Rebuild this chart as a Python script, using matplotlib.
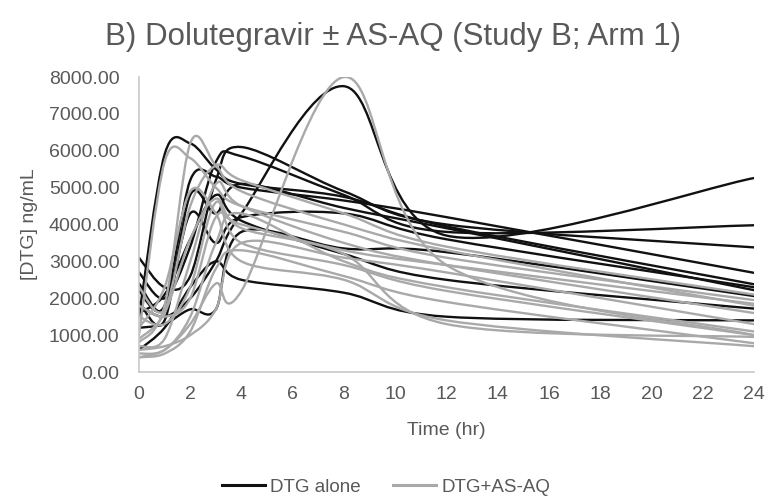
import matplotlib
matplotlib.use("Agg")
import matplotlib.pyplot as plt
import numpy as np
from matplotlib.path import Path
from matplotlib.patches import PathPatch
from matplotlib.lines import Line2D

plt.rcParams["font.family"] = ["Liberation Sans", "DejaVu Sans"]

# sampling times (hr)
hours = [0, 1, 2, 3, 4, 8, 12, 24]

# [DTG] ng/mL per participant, DTG given alone
dtg_alone = [
    [1500, 5900, 6200, 5500, 5100, 4750, 3950, 2380],
    [1800, 1500, 2000, 3000, 4300, 7750, 3700, 5260],
    [3100, 2300, 2600, 5200, 6100, 4900, 4000, 3380],
    [2700, 2000, 3400, 5700, 5850, 4800, 3800, 3980],
    [2200, 1800, 5200, 5300, 5000, 4650, 4200, 2690],
    [1900, 1400, 4800, 4300, 5100, 4450, 3900, 2220],
    [1200, 1300, 1700, 1700, 3800, 3350, 3250, 2060],
    [600, 1200, 2300, 3000, 2500, 2150, 1500, 1400],
    [1600, 2100, 3600, 4800, 4100, 3200, 2500, 1720],
    [2400, 1700, 4300, 3500, 4200, 4300, 3600, 2300],
]

# [DTG] ng/mL per participant, DTG co-administered with AS-AQ
dtg_asaq = [
    [400, 600, 1300, 2400, 2200, 8000, 2900, 1000],
    [1000, 5700, 5800, 5000, 4500, 3800, 3100, 1950],
    [800, 1800, 6200, 5600, 4900, 4000, 3300, 1800],
    [2300, 1700, 4500, 5600, 5200, 4300, 3400, 2100],
    [700, 900, 3000, 5100, 4500, 3500, 2900, 1600],
    [500, 600, 1500, 3500, 4300, 3000, 2300, 1100],
    [1500, 1300, 2300, 4600, 3500, 2900, 2200, 1000],
    [400, 500, 1100, 2800, 3300, 2600, 1900, 780],
    [1200, 2300, 4900, 4300, 3000, 2500, 1400, 700],
    [900, 1600, 3600, 4700, 3900, 3200, 1300, 950],
    [600, 700, 1000, 1700, 3500, 3100, 2700, 1300],
    [1800, 1500, 2000, 4200, 4000, 3300, 2900, 1850],
]

BLACK = "#111111"
GRAY = "#a9a9a9"
TEXT = "#595959"


def smooth_path(x, y):
    # cubic bezier through the points, spreadsheet-style smoothing
    pts = np.column_stack([x, y]).astype(float)
    n = len(pts)
    verts = [pts[0]]
    codes = [Path.MOVETO]
    for i in range(n - 1):
        p0 = pts[max(i - 1, 0)]
        p1 = pts[i]
        p2 = pts[i + 1]
        p3 = pts[min(i + 2, n - 1)]
        c1 = p1 + (p2 - p0) / 6.0
        c2 = p2 - (p3 - p1) / 6.0
        verts += [c1, c2, p2]
        codes += [Path.CURVE4] * 3
    return Path(verts, codes)


fig = plt.figure(figsize=(7.7, 5.03), dpi=100)
ax = fig.add_axes([0.1805, 0.2604, 0.7987, 0.5865])

for conc in dtg_alone:
    ax.add_patch(PathPatch(smooth_path(hours, conc), fill=False,
                           edgecolor=BLACK, lw=1.7, capstyle="round"))
for conc in dtg_asaq:
    ax.add_patch(PathPatch(smooth_path(hours, conc), fill=False,
                           edgecolor=GRAY, lw=1.7, capstyle="round"))

ax.set_xlim(0, 24)
ax.set_ylim(0, 8000)
ax.set_xticks(range(0, 25, 2))
ax.set_yticks(range(0, 8001, 1000))
ax.set_yticklabels([f"{v:.2f}" for v in range(0, 8001, 1000)])
ax.tick_params(length=0, labelsize=14, labelcolor=TEXT)
ax.tick_params(axis="y", pad=14)
ax.tick_params(axis="x", pad=10)

for side in ("top", "right"):
    ax.spines[side].set_visible(False)
for side in ("left", "bottom"):
    ax.spines[side].set_color("#c8c8c8")
    ax.spines[side].set_linewidth(1.2)

ax.set_xlabel("Time (hr)", fontsize=14, color=TEXT, labelpad=14)
ax.set_ylabel("[DTG] ng/mL", fontsize=14, color=TEXT, labelpad=8)

fig.text(393 / 770, 1 - 37 / 503, "B) Dolutegravir \u00b1 AS-AQ (Study B; Arm 1)",
         ha="center", va="center", fontsize=22.5, color=TEXT)

handles = [Line2D([], [], color=BLACK, lw=2.2),
           Line2D([], [], color=GRAY, lw=2.2)]
fig.legend(handles, ["DTG alone", "DTG+AS-AQ"], loc="center",
           bbox_to_anchor=(386 / 770, 1 - 487 / 503), ncol=2, frameon=False,
           fontsize=13.5, labelcolor=TEXT, handlelength=2.3, handletextpad=0.3,
           columnspacing=1.7)

fig.savefig("out.png", dpi=100)
